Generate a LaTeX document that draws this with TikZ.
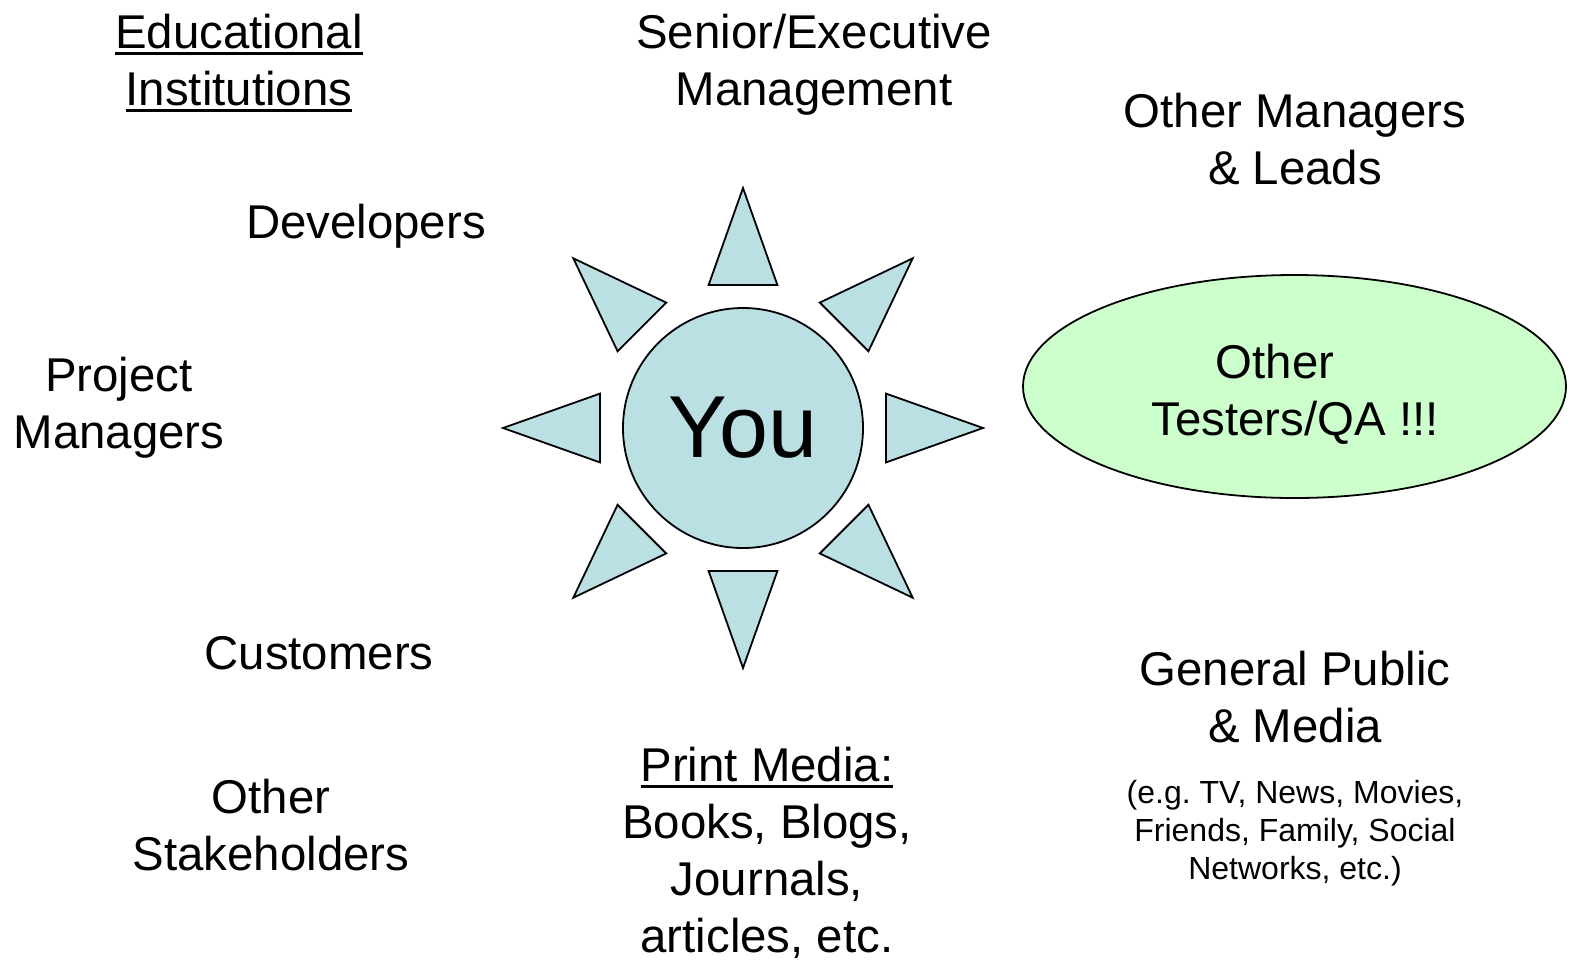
\documentclass[tikz,border=0pt]{standalone}
\usepackage{fontspec}
\setmainfont{Liberation Sans}
\usetikzlibrary{shapes.geometric}
\definecolor{sunblue}{HTML}{BBE0E3}
\definecolor{qagreen}{HTML}{CCFFCC}
\newcommand{\lined}[1]{\setbox0\hbox{#1}\rlap{\rule[-3.3pt]{\wd0}{1.5pt}}\box0}
\frenchspacing
\begin{document}
\begin{tikzpicture}[x=0.5pt,y=-0.5pt,
    ray/.style={draw=black,fill=sunblue,line width=0.9pt,line join=miter},
    sun/.style={circle,draw=black,fill=sunblue,line width=0.9pt,minimum size=120pt,inner sep=0pt,
        font=\fontsize{44}{52}\selectfont},
    blob/.style={ellipse,draw=black,fill=qagreen,line width=0.9pt,minimum width=271.5pt,minimum height=111.5pt,inner sep=0pt},
    lbl/.style={font=\fontsize{23.7}{28.5}\selectfont,align=center,anchor=base,inner sep=0pt},
    note/.style={font=\fontsize{16}{19}\selectfont,align=center,anchor=base,inner sep=0pt}]
    \useasboundingbox (0,0) rectangle (1573,960);
    \node[sun] (you) at (743,428) {You};
    \foreach \a in {0,45,...,315}{
        \draw[ray,shift={(you.center)},rotate=\a] (240,0)--(143,34.4)--(143,-34.4)--cycle;
    }
    % base anchor sits on the last line of each label
    \node[blob] (qa) at (1294.5,386.5) {};
    \node[lbl] (qatext) at (1295,435) {Other\hspace*{0.85em}\\Testers/QA !!!};
    \node[lbl] (edu) at (239,105) {\lined{Educational}\\\lined{Institutions}};
    \node[lbl] (senior) at (814,105) {Senior/Executive\\Management};
    \node[lbl] (managers) at (1295,184) {Other Managers\\\& Leads};
    \node[lbl] (devs) at (366,238) {Developers};
    \node[lbl] (pm) at (119,448) {Project\\Managers};
    \node[lbl] (customers) at (319,669) {Customers};
    \node[lbl] (stake) at (271,870) {Other\\Stakeholders};
    \node[lbl] (print) at (767,952) {\lined{Print Media:}\\Books, Blogs,\\Journals,\\articles, etc.};
    \node[lbl] (public) at (1295,742) {General Public\\\& Media};
    \node[note] (examples) at (1295,879) {(e.g. TV, News, Movies,\\Friends, Family, Social\\Networks, etc.)};
\end{tikzpicture}
\end{document}
